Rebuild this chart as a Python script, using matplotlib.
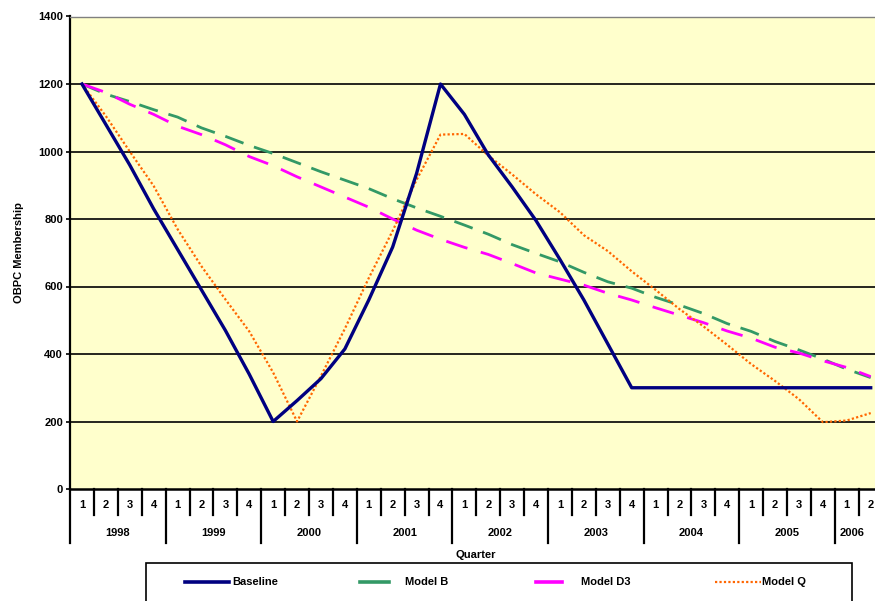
import matplotlib

matplotlib.use('Agg')
import matplotlib.pyplot as plt
import matplotlib.transforms as mtransforms
from matplotlib.lines import Line2D
from matplotlib.patches import Rectangle

plt.rcParams['font.family'] = ['Liberation Sans', 'DejaVu Sans']

# 数据：1998Q1 - 2006Q2，按季度
years = ['1998', '1999', '2000', '2001', '2002', '2003', '2004', '2005', '2006']
quarters = ['1', '2', '3', '4']

baseline = [1200, 1080, 960, 830, 710, 590, 470, 340, 200, 262, 327, 415, 560, 717, 935,
            1200, 1110, 990, 895, 795, 680, 560, 430, 300, 300, 300, 300, 300, 300, 300,
            300, 300, 300, 300]
model_b = [1200, 1170, 1148, 1124, 1102, 1070, 1045, 1018, 994, 967, 940, 915, 890, 860,
           833, 808, 782, 755, 724, 698, 673, 642, 614, 595, 568, 545, 520, 490, 467, 437,
           412, 385, 355, 330]
model_d3 = [1200, 1175, 1140, 1110, 1075, 1050, 1020, 985, 958, 925, 895, 865, 835, 800,
            767, 740, 716, 695, 668, 640, 622, 604, 580, 560, 537, 515, 493, 468, 447, 420,
            403, 380, 360, 333]
model_q = [1200, 1105, 1000, 898, 770, 660, 562, 467, 345, 200, 335, 475, 625, 765, 916,
           1050, 1052, 988, 932, 873, 820, 752, 705, 645, 590, 533, 482, 427, 370, 320,
           266, 198, 203, 225]

series_names = ['Baseline', 'Model B', 'Model D3', 'Model Q']
colors = ['#000080', '#339966', '#FF00FF', '#FF6600']

n = len(baseline)
x = list(range(n))

W, H = 875, 601
fig = plt.figure(figsize=(W / 100, H / 100), dpi=100)
ax = fig.add_axes([70 / W, 112 / H, 805 / W, 472.5 / H])
ax.set_facecolor('#FFFFCC')

# 网格线
for v in range(200, 1400, 200):
    ax.axhline(v, color='black', linewidth=1.2, zorder=1)

ax.plot(x, model_b, color=colors[1], linewidth=2.0, dashes=(7, 4), zorder=3)
ax.plot(x, model_d3, color=colors[2], linewidth=2.0, dashes=(8, 5), zorder=3)
ax.plot(x, model_q, color=colors[3], linewidth=1.6, linestyle=(0, (1, 1)), zorder=4)
ax.plot(x, baseline, color=colors[0], linewidth=2.4, zorder=5)

ax.set_xlim(-0.5, 33.18)
ax.set_ylim(0, 1400)
ax.set_yticks(range(0, 1401, 200))
ax.set_yticklabels([str(v) for v in range(0, 1401, 200)], fontsize=8, fontweight='bold')
ax.tick_params(axis='y', length=3, width=1.2, pad=2)
ax.set_xticks([])

ax.spines['right'].set_visible(False)
ax.spines['top'].set_color('gray')
ax.spines['top'].set_linewidth(1.0)
ax.spines['left'].set_linewidth(1.6)
ax.spines['bottom'].set_linewidth(1.8)

ax.set_ylabel('OBPC Membership', fontsize=8, fontweight='bold', labelpad=10)

# 多级分类轴（季度 / 年份）
trans = mtransforms.blended_transform_factory(ax.transData, ax.transAxes)
for i in range(n):
    ax.text(i, -0.034, quarters[i % 4], transform=trans, ha='center', va='center',
            fontsize=8, fontweight='bold')
    if (i + 1) % 4 != 0:
        ax.plot([i + 0.5, i + 0.5], [0, -0.056], transform=trans, color='black',
                linewidth=1.6, clip_on=False)
for k, yr in enumerate(years):
    if 4 * k + 3.5 <= n:
        ax.text(4 * k + 1.5, -0.093, yr, transform=trans, ha='center', va='center',
                fontsize=8, fontweight='bold')
    else:
        # 最后一年只显示一部分，贴着分隔线放
        ax.text(4 * k - 0.3, -0.093, yr, transform=trans, ha='left', va='center',
                fontsize=8, fontweight='bold')
    ax.plot([4 * k - 0.5, 4 * k - 0.5], [0, -0.115], transform=trans, color='black',
            linewidth=1.6, clip_on=False)

ax.text(0.504, -0.14, 'Quarter', transform=ax.transAxes, ha='center', va='center',
        fontsize=8, fontweight='bold')

# 图例（手动摆放，模仿 Excel 的间距）
fig.add_artist(Rectangle((146 / W, -0.01), 706 / W, (601 - 563) / H + 0.01,
                         transform=fig.transFigure, facecolor='white',
                         edgecolor='black', linewidth=1.2))
leg_y = (H - 582) / H
leg_items = [(185, 229, 232), (360, 389, 405), (536, 562, 581), (715, 761, 762)]
for (x0, x1, tx), name, c in zip(leg_items, series_names, colors):
    if name == 'Model Q':
        ls, lw = (0, (1, 1)), 1.6
    else:
        ls, lw = '-', 2.6
    fig.add_artist(Line2D([x0 / W, x1 / W], [leg_y, leg_y], transform=fig.transFigure,
                          color=c, linewidth=lw, linestyle=ls))
    fig.text(tx / W, leg_y, name, ha='left', va='center', fontsize=8, fontweight='bold')

plt.savefig('out.png', dpi=100)
plt.close()
